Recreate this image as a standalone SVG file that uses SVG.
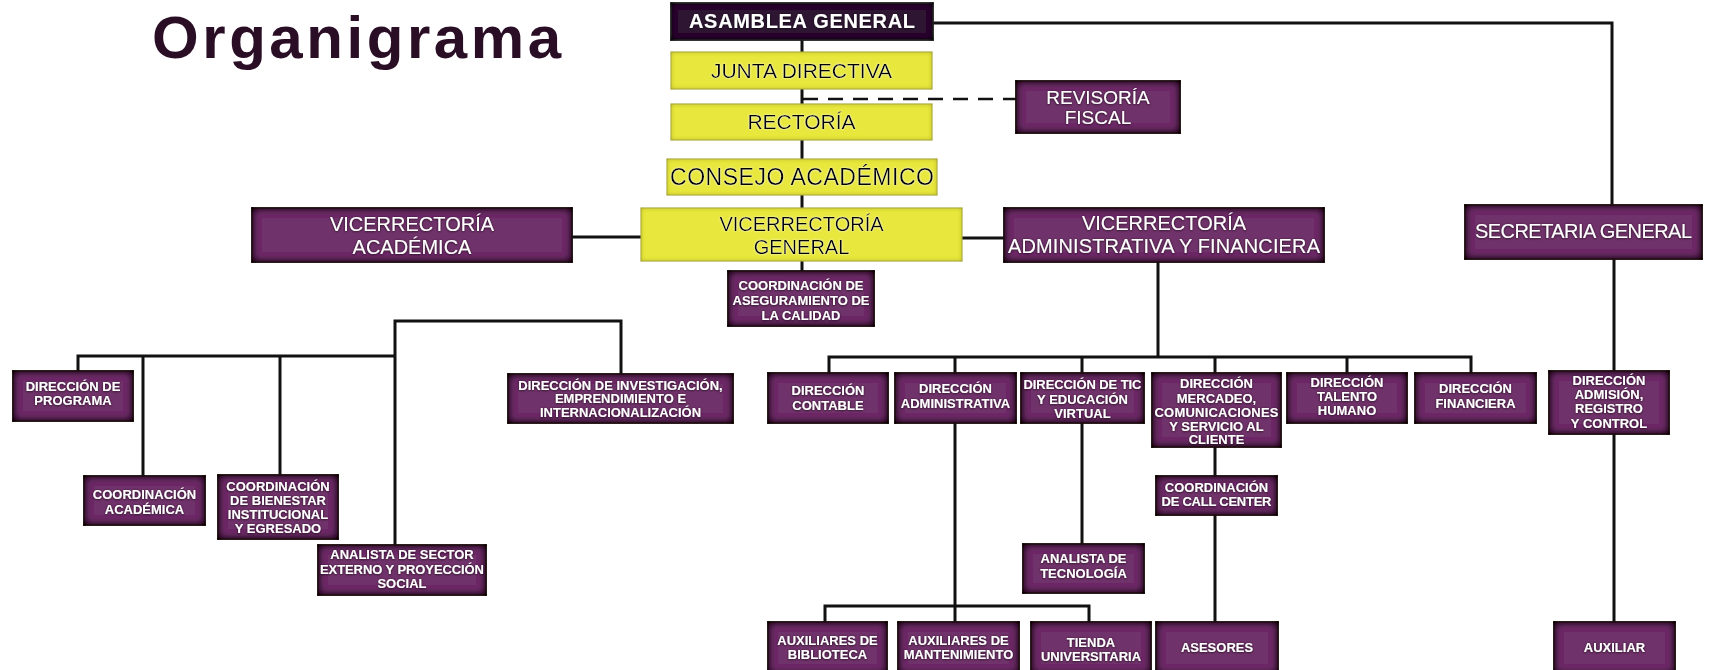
<svg xmlns="http://www.w3.org/2000/svg" width="1717" height="670" viewBox="0 0 1717 670">
<defs>
<filter id="insetP" x="-20%" y="-40%" width="140%" height="180%">
<feFlood flood-color="#12000e"/>
<feComposite in2="SourceAlpha" operator="out"/>
<feGaussianBlur stdDeviation="4"/>
<feComposite in2="SourceAlpha" operator="in" result="sh"/>
<feMerge><feMergeNode in="SourceGraphic"/><feMergeNode in="sh"/><feMergeNode in="sh"/><feMergeNode in="sh"/></feMerge>
</filter>
<filter id="insetY" x="-20%" y="-40%" width="140%" height="180%">
<feFlood flood-color="#8f8d10" flood-opacity="0.8"/>
<feComposite in2="SourceAlpha" operator="out"/>
<feGaussianBlur stdDeviation="2.5"/>
<feComposite in2="SourceAlpha" operator="in"/>
<feMerge><feMergeNode in="SourceGraphic"/><feMergeNode/></feMerge>
</filter>
<filter id="insetD" x="-20%" y="-40%" width="140%" height="180%">
<feFlood flood-color="#000000"/>
<feComposite in2="SourceAlpha" operator="out"/>
<feGaussianBlur stdDeviation="3"/>
<feComposite in2="SourceAlpha" operator="in" result="sh"/>
<feMerge><feMergeNode in="SourceGraphic"/><feMergeNode in="sh"/><feMergeNode in="sh"/></feMerge>
</filter>
<filter id="tsh" x="-10%" y="-30%" width="120%" height="160%">
<feDropShadow dx="0" dy="0.5" stdDeviation="0.8" flood-color="#000" flood-opacity="0.8"/>
</filter>
<filter id="tglow" x="-10%" y="-30%" width="120%" height="160%">
<feDropShadow dx="0" dy="0" stdDeviation="1" flood-color="#fff" flood-opacity="0.9"/>
</filter>
<style>
.p{fill:#70316a;stroke:#3a3a3a;stroke-width:1.5;filter:url(#insetP)}
.y{fill:#e8e73e;stroke:#b9b84a;stroke-width:1;filter:url(#insetY)}
.d{fill:#2d1733;stroke:#3a3a3a;stroke-width:1.5;filter:url(#insetD)}
text{font-family:"Liberation Sans",Arial,sans-serif;text-anchor:middle}
.w{fill:#ffffff;filter:url(#tsh)}
.k{fill:#000000;filter:url(#tglow)}
.s{font-size:13px;font-weight:bold}
.m{font-size:20px}
.l{font-size:21px}
.ln{fill:none;stroke:#111;stroke-width:3}
.dash{fill:none;stroke:#111;stroke-width:2.5;stroke-dasharray:15 10}
.title{font-size:60px;font-weight:bold;fill:#2a0e26;text-anchor:start}
</style>
</defs>
<rect width="1717" height="670" fill="#ffffff"/>
<text class="title" x="152" y="58" textLength="409" lengthAdjust="spacing">Organigrama</text>

<g id="connectors">
<path class="ln" d="M802 40V271"/>
<path class="dash" d="M803 99H1016"/>
<path class="ln" d="M933 23H1612V205"/>
<path class="ln" d="M572 237H641"/>
<path class="ln" d="M962 238H1004"/>
<path class="ln" d="M395 545V321H621V374"/>
<path class="ln" d="M78 371V356H395"/>
<path class="ln" d="M143 357V476"/>
<path class="ln" d="M280 356V475"/>
<path class="ln" d="M1158 262V357"/>
<path class="ln" d="M829 373V357H1471V373"/>
<path class="ln" d="M955 357V373M1082 357V373M1215 357V373M1347 357V373"/>
<path class="ln" d="M955 423V622"/>
<path class="ln" d="M825 622V606H1089V622"/>
<path class="ln" d="M1082 423V544"/>
<path class="ln" d="M1215 447V476M1215 515V622"/>
<path class="ln" d="M1614 259V371M1614 434V622"/>
</g>

<g id="asamblea"><rect class="d" x="671" y="3" width="262" height="37"/><text class="w" x="802" y="28" style="font-size:20px;font-weight:bold" textLength="226">ASAMBLEA GENERAL</text></g>
<g id="junta"><rect class="y" x="671" y="52" width="261" height="37"/><text class="k l" x="801.5" y="78">JUNTA DIRECTIVA</text></g>
<g id="rectoria"><rect class="y" x="671" y="104" width="261" height="36"/><text class="k l" x="801.5" y="129">RECTORÍA</text></g>
<g id="consejo"><rect class="y" x="667" y="159" width="270" height="36"/><text class="k" style="font-size:23px" x="802" y="185" textLength="264">CONSEJO ACADÉMICO</text></g>
<g id="vicerrectoria-general"><rect class="y" x="641" y="208" width="321" height="53"/><text class="k m" x="801.5" y="231">VICERRECTORÍA</text><text class="k m" x="801.5" y="254">GENERAL</text></g>
<g id="revisoria"><rect class="p" x="1016" y="81" width="164" height="52"/><text class="w" style="font-size:19px" x="1098" y="104">REVISORÍA</text><text class="w" style="font-size:19px" x="1098" y="124">FISCAL</text></g>
<g id="vicerrectoria-academica"><rect class="p" x="252" y="208" width="320" height="54"/><text class="w m" x="412" y="231">VICERRECTORÍA</text><text class="w m" x="412" y="254">ACADÉMICA</text></g>
<g id="vicerrectoria-administrativa"><rect class="p" x="1004" y="208" width="320" height="54"/><text class="w m" x="1164" y="230">VICERRECTORÍA</text><text class="w m" x="1164" y="253" textLength="312">ADMINISTRATIVA Y FINANCIERA</text></g>
<g id="secretaria"><rect class="p" x="1465" y="205" width="237" height="54"/><text class="w m" x="1583.5" y="238" textLength="217">SECRETARIA GENERAL</text></g>
<g id="aseguramiento"><rect class="p" x="728" y="271" width="146" height="55"/><text class="w s" x="801" y="290">COORDINACIÓN DE</text><text class="w s" x="801" y="305">ASEGURAMIENTO DE</text><text class="w s" x="801" y="320">LA CALIDAD</text></g>

<g id="dir-programa"><rect class="p" x="13" y="371" width="120" height="50"/><text class="w s" x="73" y="391">DIRECCIÓN DE</text><text class="w s" x="73" y="405">PROGRAMA</text></g>
<g id="coord-academica"><rect class="p" x="84" y="476" width="121" height="49"/><text class="w s" x="144.5" y="499">COORDINACIÓN</text><text class="w s" x="144.5" y="514">ACADÉMICA</text></g>
<g id="coord-bienestar"><rect class="p" x="218" y="475" width="120" height="64"/><text class="w s" x="278" y="491">COORDINACIÓN</text><text class="w s" x="278" y="505">DE BIENESTAR</text><text class="w s" x="278" y="519">INSTITUCIONAL</text><text class="w s" x="278" y="533">Y EGRESADO</text></g>
<g id="analista-sector"><rect class="p" x="318" y="545" width="168" height="50"/><text class="w s" x="402" y="559">ANALISTA DE SECTOR</text><text class="w s" x="402" y="574" textLength="164">EXTERNO Y PROYECCIÓN</text><text class="w s" x="402" y="588">SOCIAL</text></g>
<g id="dir-investigacion"><rect class="p" x="508" y="374" width="225" height="49"/><text class="w s" x="620.5" y="390">DIRECCIÓN DE INVESTIGACIÓN,</text><text class="w s" x="620.5" y="403">EMPRENDIMIENTO E</text><text class="w s" x="620.5" y="417">INTERNACIONALIZACIÓN</text></g>

<g id="dir-contable"><rect class="p" x="768" y="373" width="120" height="50"/><text class="w s" x="828" y="395">DIRECCIÓN</text><text class="w s" x="828" y="410">CONTABLE</text></g>
<g id="dir-administrativa"><rect class="p" x="895" y="373" width="121" height="50"/><text class="w s" x="955.5" y="393">DIRECCIÓN</text><text class="w s" x="955.5" y="408">ADMINISTRATIVA</text></g>
<g id="dir-tic"><rect class="p" x="1021" y="373" width="123" height="50"/><text class="w s" x="1082.5" y="389" textLength="118">DIRECCIÓN DE TIC</text><text class="w s" x="1082.5" y="404">Y EDUCACIÓN</text><text class="w s" x="1082.5" y="418">VIRTUAL</text></g>
<g id="dir-mercadeo"><rect class="p" x="1152" y="373" width="129" height="74"/><text class="w s" x="1216.5" y="388">DIRECCIÓN</text><text class="w s" x="1216.5" y="403">MERCADEO,</text><text class="w s" x="1216.5" y="417" textLength="124">COMUNICACIONES</text><text class="w s" x="1216.5" y="431">Y SERVICIO AL</text><text class="w s" x="1216.5" y="444">CLIENTE</text></g>
<g id="dir-talento"><rect class="p" x="1287" y="373" width="120" height="50"/><text class="w s" x="1347" y="387">DIRECCIÓN</text><text class="w s" x="1347" y="401">TALENTO</text><text class="w s" x="1347" y="415">HUMANO</text></g>
<g id="dir-financiera"><rect class="p" x="1415" y="373" width="121" height="50"/><text class="w s" x="1475.5" y="393">DIRECCIÓN</text><text class="w s" x="1475.5" y="408">FINANCIERA</text></g>
<g id="dir-admision"><rect class="p" x="1549" y="371" width="120" height="63"/><text class="w s" x="1609" y="385">DIRECCIÓN</text><text class="w s" x="1609" y="399">ADMISIÓN,</text><text class="w s" x="1609" y="413">REGISTRO</text><text class="w s" x="1609" y="428">Y CONTROL</text></g>
<g id="coord-call-center"><rect class="p" x="1156" y="476" width="121" height="39"/><text class="w s" x="1216.5" y="492">COORDINACIÓN</text><text class="w s" x="1216.5" y="506" textLength="110">DE CALL CENTER</text></g>
<g id="analista-tecnologia"><rect class="p" x="1023" y="544" width="121" height="49"/><text class="w s" x="1083.5" y="563">ANALISTA DE</text><text class="w s" x="1083.5" y="578">TECNOLOGÍA</text></g>

<g id="aux-biblioteca"><rect class="p" x="768" y="622" width="119" height="52"/><text class="w s" x="827.5" y="645">AUXILIARES DE</text><text class="w s" x="827.5" y="659">BIBLIOTECA</text></g>
<g id="aux-mantenimiento"><rect class="p" x="898" y="622" width="121" height="52"/><text class="w s" x="958.5" y="645">AUXILIARES DE</text><text class="w s" x="958.5" y="659">MANTENIMIENTO</text></g>
<g id="tienda"><rect class="p" x="1031" y="622" width="120" height="52"/><text class="w s" x="1091" y="647">TIENDA</text><text class="w s" x="1091" y="661">UNIVERSITARIA</text></g>
<g id="asesores"><rect class="p" x="1156" y="622" width="122" height="52"/><text class="w s" x="1217" y="652">ASESORES</text></g>
<g id="auxiliar"><rect class="p" x="1554" y="622" width="121" height="52"/><text class="w s" x="1614.5" y="652">AUXILIAR</text></g>
</svg>
